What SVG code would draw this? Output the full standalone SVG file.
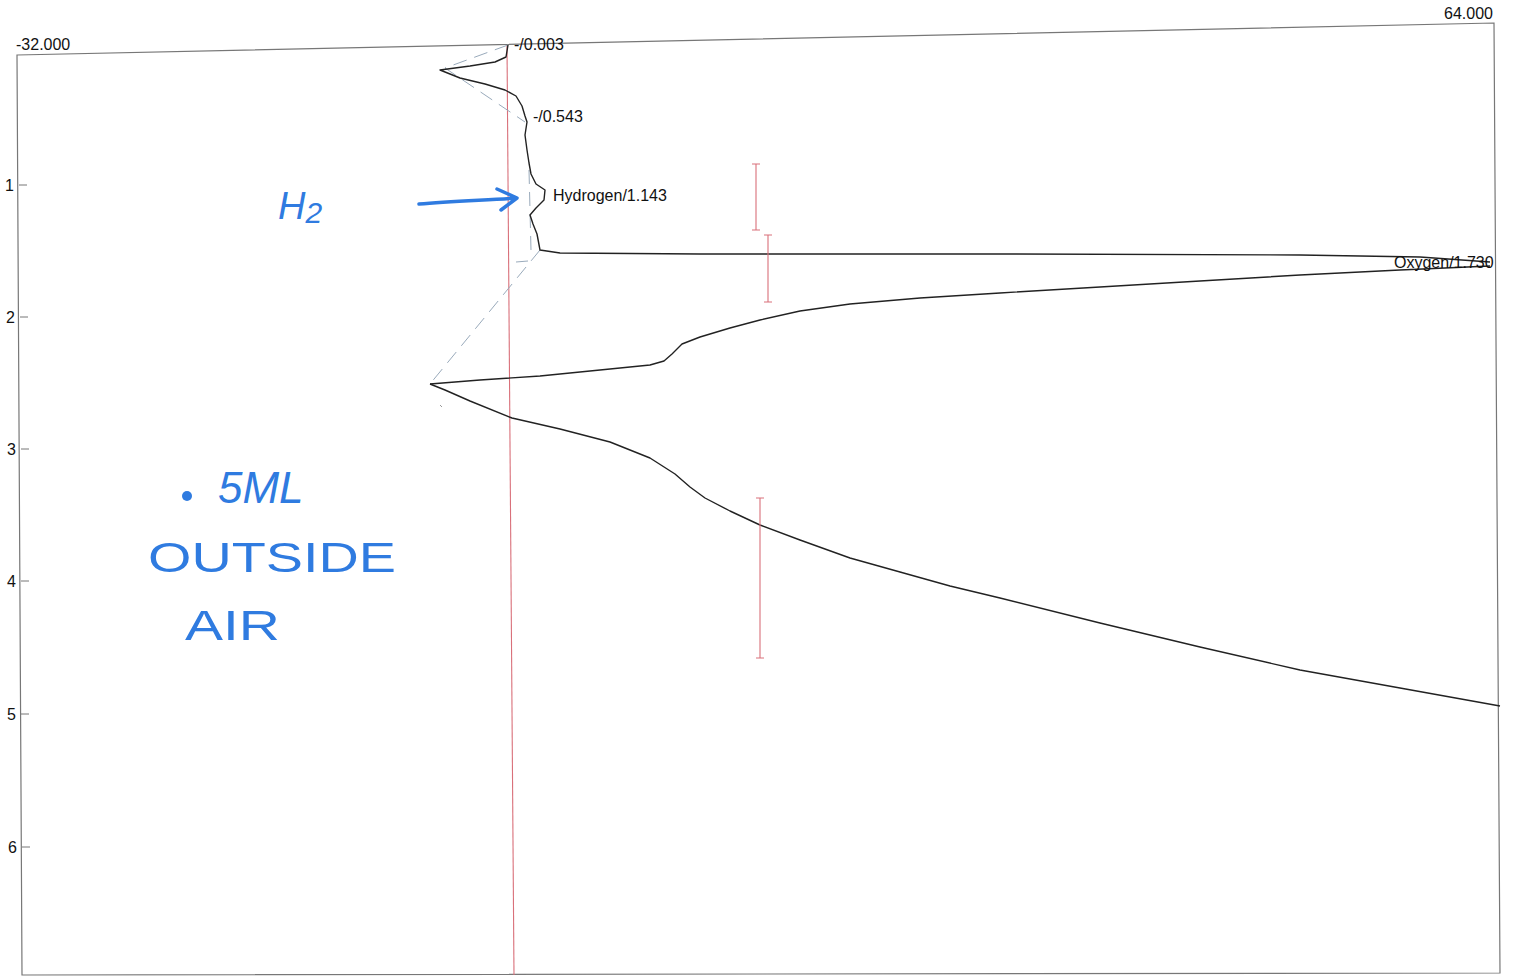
<svg xmlns="http://www.w3.org/2000/svg" width="1513" height="977" viewBox="0 0 1513 977">
<style>
.lbl{font-family:"Liberation Sans",Arial,sans-serif;font-size:16px;fill:#111}
.frame{fill:none;stroke:#777;stroke-width:1.2}
.trace{fill:none;stroke:#222;stroke-width:1.4;stroke-linejoin:round}
.dash{fill:none;stroke:#9ab;stroke-width:1;stroke-dasharray:14 8}
.err{fill:none;stroke:#d9707a;stroke-width:1.1}
.hand{font-family:"Liberation Sans",Arial,sans-serif;fill:#2f7be0;font-weight:normal}
.pen{fill:none;stroke:#2f7be0;stroke-width:3.5;stroke-linecap:round;stroke-linejoin:round}
</style>
<rect width="1513" height="977" fill="#fff"/>
<g id="frame">
<polygon class="frame" points="17,55 1494,23 1500,973 22,975"/>
<g stroke="#777" stroke-width="1">
<line x1="19" y1="185" x2="27" y2="185"/>
<line x1="20" y1="317" x2="28" y2="317"/>
<line x1="21" y1="449" x2="29" y2="449"/>
<line x1="21" y1="581" x2="29" y2="581"/>
<line x1="21" y1="714" x2="29" y2="714"/>
<line x1="22" y1="847" x2="30" y2="847"/>
</g>
<text class="lbl" x="5" y="191">1</text>
<text class="lbl" x="6" y="323">2</text>
<text class="lbl" x="7" y="455">3</text>
<text class="lbl" x="7" y="587">4</text>
<text class="lbl" x="7" y="720">5</text>
<text class="lbl" x="8" y="853">6</text>
<text class="lbl" x="16" y="50">-32.000</text>
<text class="lbl" x="1444" y="19">64.000</text>
</g>
<g id="cursor">
<line x1="507" y1="45" x2="514" y2="975" stroke="#d9707a" stroke-width="1.1"/>
</g>
<g id="connectors">
<path class="dash" d="M508,45 L445,68 L525,122"/>
<path class="dash" d="M529,170 L531,250"/>
<path class="dash" d="M540,250 L430,384"/>
<line x1="516" y1="262" x2="528" y2="261" stroke="#9ab" stroke-width="1"/>
<line x1="440" y1="405" x2="442" y2="407" stroke="#999" stroke-width="1"/>
</g>
<g id="hydrogen-trace">
<path class="trace" d="M508,45 L506,57 L495,62 L470,66 L440,70 L460,78 L485,84 L505,90 L516,96 L522,106 L525,116 L527,122 L525,135 L527,150 L529,163 L531,174 L536,184 L545,190 L544,200 L536,208 L530,215 L533,224 L537,234 L540,250 L560,253 L700,254 L1000,254 L1300,255 L1420,257 L1490,262"/>
</g>
<g id="oxygen-trace">
<path class="trace" d="M430,384 L480,380 L540,376 L600,370 L650,365 L664,361 L672,354 L682,344 L700,337 L730,328 L760,320 L800,311 L850,304 L920,298 L1000,293 L1100,287 L1200,281 L1300,275 L1400,270 L1490,266"/>
<path class="trace" d="M430,384 L445,390 L470,401 L512,418 L560,429 L610,442 L650,458 L675,474 L690,487 L705,498 L730,511 L760,525 L800,540 L850,558 L900,572 L950,586 L1000,598 L1100,623 L1200,647 L1300,670 L1400,688 L1500,706"/>
</g>
<g id="error-bars">
<path class="err" d="M756,164 V230 M752,164 H760 M752,230 H760"/>
<path class="err" d="M768,235 V302 M764,235 H772 M764,302 H772"/>
<path class="err" d="M760,498 V658 M756,498 H764 M756,658 H764"/>
</g>
<g id="labels">
<text class="lbl" x="514" y="50">-/0.003</text>
<text class="lbl" x="533" y="122">-/0.543</text>
<text class="lbl" x="553" y="201">Hydrogen/1.143</text>
<text class="lbl" x="1394" y="268">Oxygen/1.730</text>
</g>
<g id="annotation-h2">
<text class="hand" x="278" y="219" font-size="38" font-style="italic">H<tspan font-size="30" dy="4">2</tspan></text>
<path class="pen" d="M419,204 C450,201 490,200 516,198 M497,189 L517,198 L501,210"/>
</g>
<g id="annotation-air">
<circle cx="187" cy="496" r="5" fill="#2f7be0"/>
<text class="hand" x="218" y="503" font-size="44" font-style="italic">5ML</text>
<text class="hand" x="148" y="572" font-size="42" textLength="248" lengthAdjust="spacingAndGlyphs">OUTSIDE</text>
<text class="hand" x="185" y="640" font-size="42" textLength="95" lengthAdjust="spacingAndGlyphs">AIR</text>
</g>
</svg>
